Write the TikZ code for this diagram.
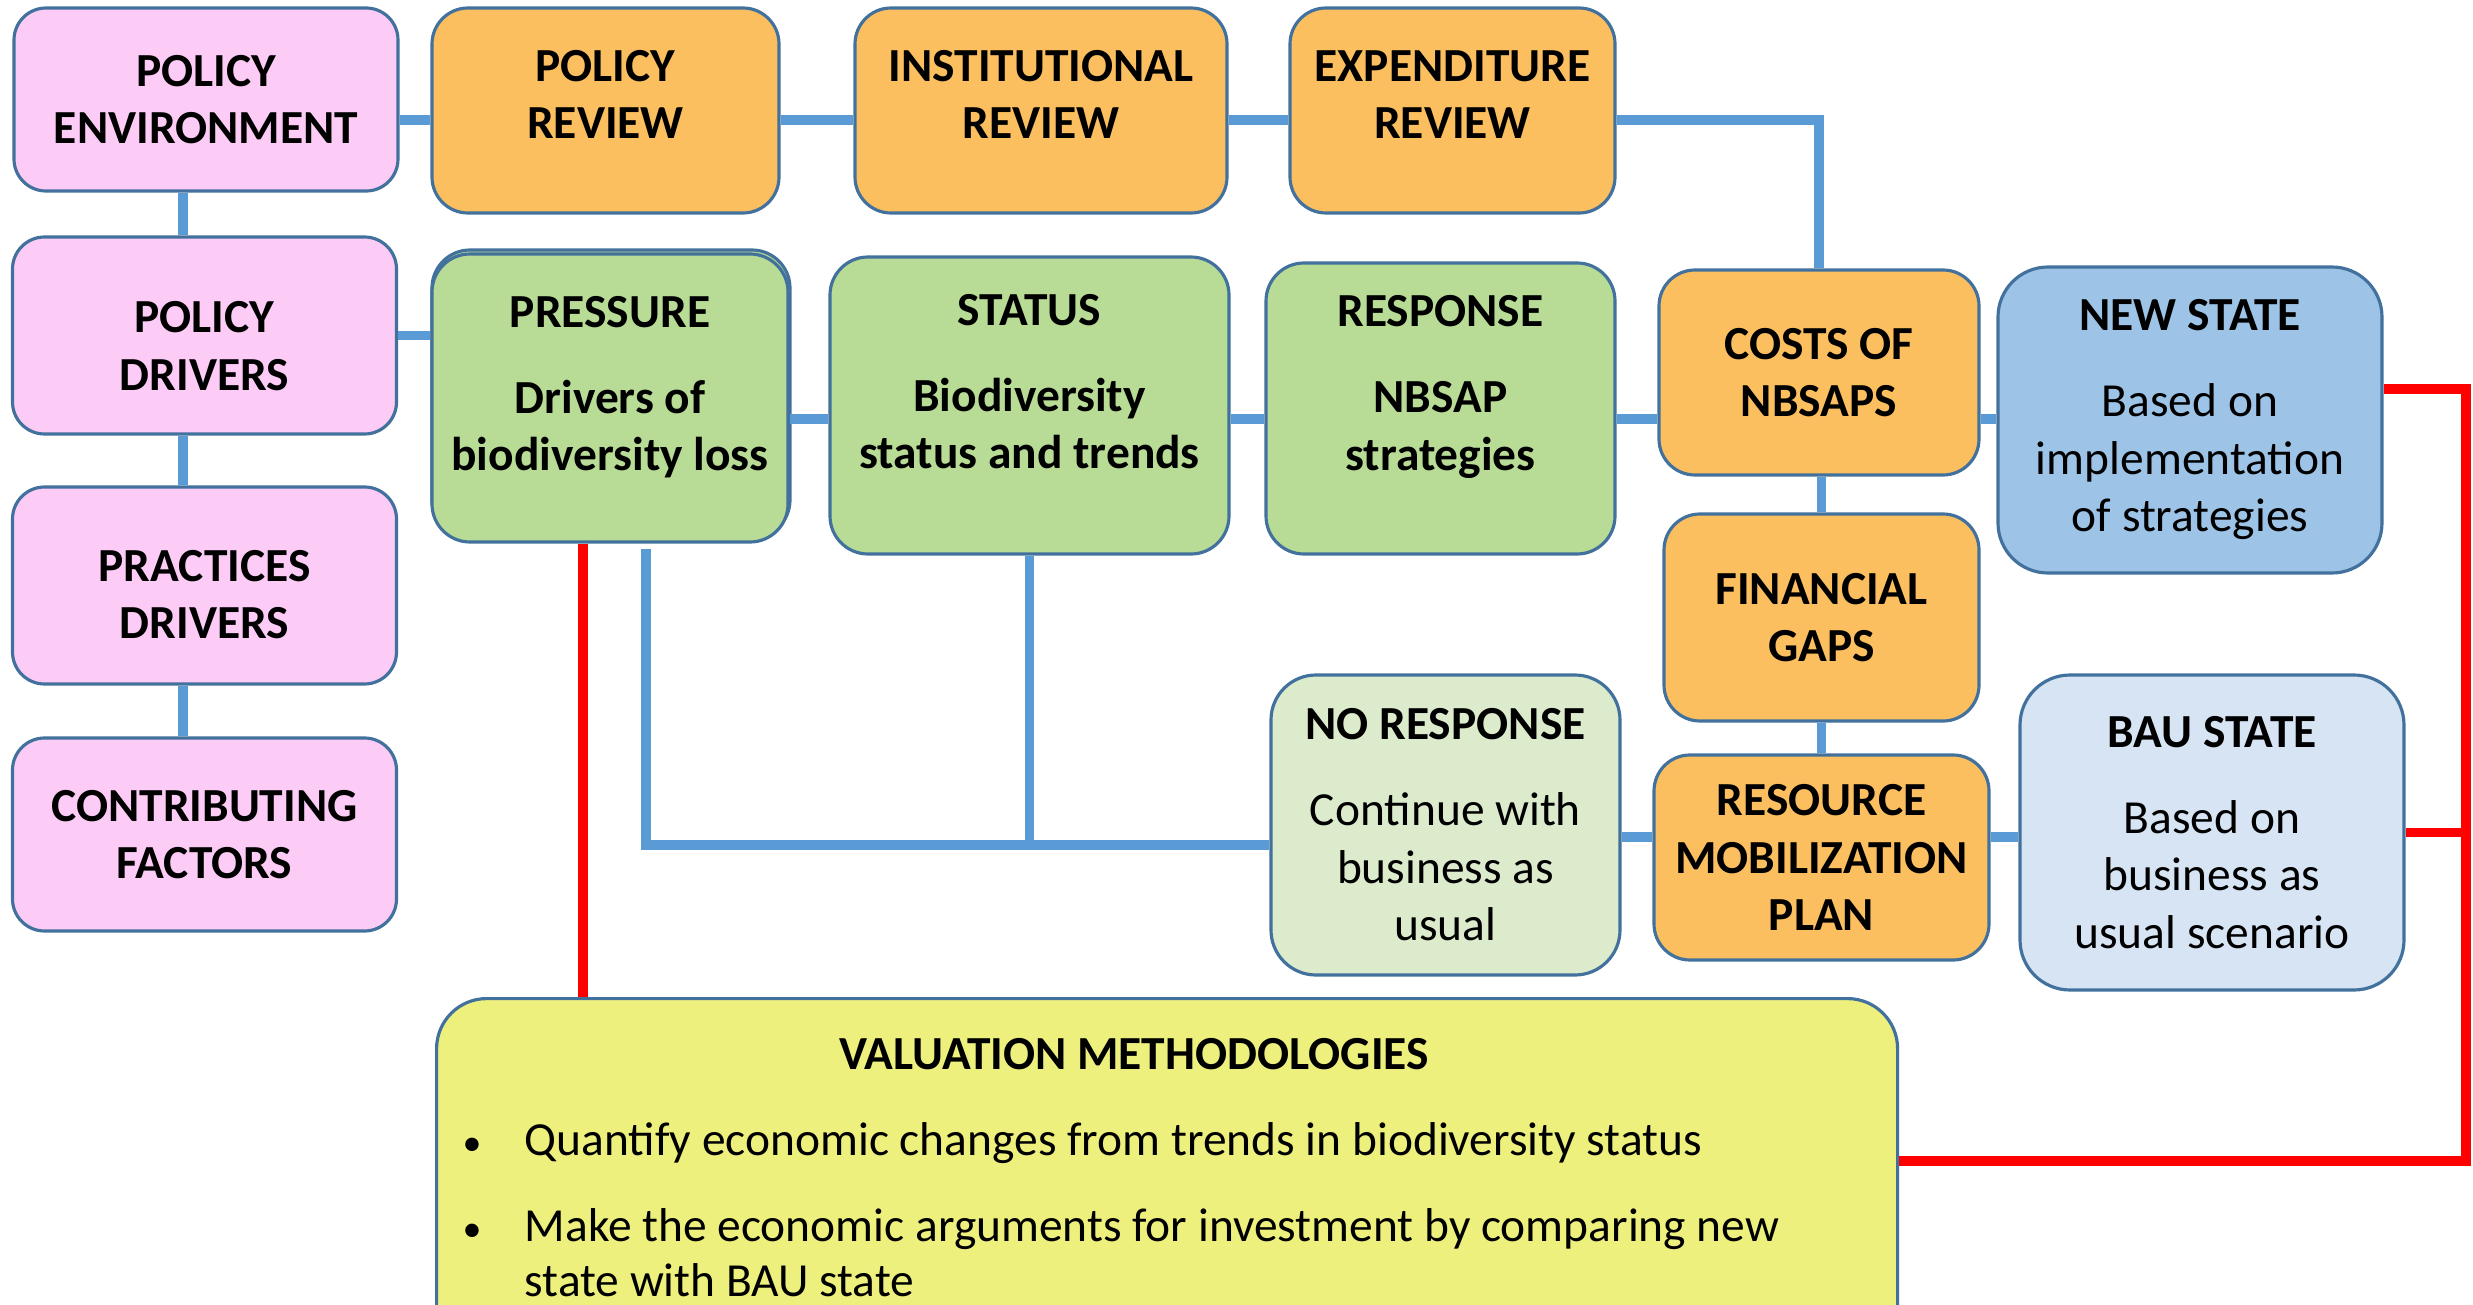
\documentclass[tikz,border=0pt]{standalone}
\usepackage{fontspec}
\setmainfont{Carlito}
\usetikzlibrary{positioning}

\definecolor{pinkfill}{HTML}{FCCCF6}
\definecolor{orangefill}{HTML}{FBBF60}
\definecolor{greenfill}{HTML}{B8DB96}
\definecolor{palegreen}{HTML}{DCEBCC}
\definecolor{newblue}{HTML}{9DC3E6}
\definecolor{baublue}{HTML}{D6E4F4}
\definecolor{valyellow}{HTML}{EEF07E}
\definecolor{boxline}{HTML}{41719C}
\definecolor{linkblue}{HTML}{5B9BD5}
\definecolor{redline}{HTML}{FF0000}

\newcommand{\diagfont}{\fontsize{13.5}{16.4}\selectfont}

\tikzset{
  box/.style={draw=boxline, line width=0.9pt, align=center, inner sep=0pt, font=\diagfont},
  pinkbox/.style={box, fill=pinkfill, rounded corners=3.2mm, minimum width=3.84cm, font=\diagfont\bfseries},
  orangebox/.style={box, fill=orangefill, rounded corners=3.6mm, minimum height=2.05cm, font=\diagfont\bfseries},
  reviewbox/.style={orangebox, text depth=3.2mm},
  greenbox/.style={box, fill=greenfill, rounded corners=3.8mm, font=\diagfont\bfseries},
  statebox/.style={box, rounded corners=5mm, minimum width=3.84cm},
  valbox/.style={box, fill=valyellow, rounded corners=5mm},
  link/.style={draw=linkblue, line width=2.8pt},
  redlink/.style={draw=redline, line width=2.8pt}
}

\begin{document}
\begin{tikzpicture}
\useasboundingbox (0,0) rectangle (24.73,-13.05);
\clip (0,0) rectangle (24.73,-13.05);

% left column
\node[pinkbox, minimum height=1.83cm] (penv) at (2.06,-0.995) {POLICY\\ENVIRONMENT};
\node[pinkbox, minimum height=1.97cm, text height=11mm] (pdrv) at (2.045,-3.355) {POLICY\\DRIVERS};
\node[pinkbox, minimum height=1.97cm, text height=10.7mm] (prac) at (2.045,-5.855) {PRACTICES\\DRIVERS};
\node[pinkbox, minimum height=1.93cm] (contrib) at (2.045,-8.345) {CONTRIBUTING\\FACTORS};

% reviews
\node[reviewbox, minimum width=3.47cm] (prev) at (6.055,-1.105) {POLICY\\REVIEW};
\node[reviewbox, minimum width=3.72cm] (irev) at (10.41,-1.105) {INSTITUTIONAL\\REVIEW};
\node[reviewbox, minimum width=3.25cm] (erev) at (14.525,-1.105) {EXPENDITURE\\REVIEW};

% pressure - status - response
\draw[draw=boxline, line width=0.9pt, fill=greenfill, rounded corners=3.8mm] (4.32,-2.50) rectangle (7.90,-5.38);
\node[greenbox, minimum width=3.56cm, minimum height=2.88cm, text depth=2.9mm] (press) at (6.10,-3.98) {PRESSURE\\[8pt]Drivers of\\biodiversity loss};
\node[greenbox, minimum width=3.99cm, minimum height=2.97cm, text depth=4.8mm] (status) at (10.295,-4.055) {STATUS\\[8pt]Biodiversity\\status and trends};
\node[greenbox, minimum width=3.49cm, minimum height=2.91cm, text depth=5.1mm] (resp) at (14.405,-4.085) {RESPONSE\\[8pt]NBSAP\\strategies};
\node[box, fill=palegreen, rounded corners=4.5mm, minimum width=3.49cm, minimum height=3.00cm] (nores) at (14.455,-8.25) {\textbf{NO RESPONSE}\\[8pt]Continue with\\business as\\usual};

% finance column
\node[orangebox, minimum width=3.20cm] (costs) at (18.19,-3.725) {COSTS OF\\NBSAPS};
\node[orangebox, minimum width=3.15cm, minimum height=2.07cm] (fingap) at (18.215,-6.175) {FINANCIAL\\GAPS};
\node[orangebox, minimum width=3.35cm] (resmob) at (18.215,-8.575) {RESOURCE\\MOBILIZATION\\PLAN};

% states
\node[statebox, fill=newblue, minimum height=3.06cm] (newst) at (21.90,-4.20) {\textbf{NEW STATE}\\[8pt]Based on\\implementation\\of strategies};
\node[statebox, fill=baublue, minimum height=3.15cm] (baust) at (22.12,-8.325) {\textbf{BAU STATE}\\[8pt]Based on\\business as\\usual scenario};

% valuation
\node[valbox, anchor=north west, minimum width=14.61cm, minimum height=3.6cm] (val) at (4.35,-9.97) {};
\node[font=\diagfont\bfseries, anchor=base, inner sep=0pt] (valtitle) at (11.34,-10.69) {VALUATION METHODOLOGIES};
\node[font=\fontsize{13.5}{15.8}\selectfont, anchor=base west, inner sep=0pt] (valitemA) at (4.62,-11.55)
  {\makebox[0.62cm][l]{\scalebox{0.8}{\textbullet}}Quantify economic changes from trends in biodiversity status};
\node[font=\fontsize{13.5}{15.8}\selectfont, anchor=base west, inner sep=0pt] (valitemB) at (4.62,-12.41)
  {\makebox[0.62cm][l]{\scalebox{0.8}{\textbullet}}\parbox[t]{13cm}{Make the economic arguments for investment by comparing new\\state with BAU state}};

% blue links
\coordinate (topline) at (0,-1.2);
\coordinate (pinkline) at (1.83,0);
\coordinate (rowline) at (0,-4.19);
\coordinate (botline) at (0,-8.37);
\coordinate (bend) at (6.46,-8.45);

\draw[link] (penv.east |- topline) -- (prev.west |- topline);
\draw[link] (prev.east |- topline) -- (irev.west |- topline);
\draw[link] (irev.east |- topline) -- (erev.west |- topline);
\draw[link] (erev.east |- topline) -| (costs.north);

\draw[link] (penv.south -| pinkline) -- (pdrv.north -| pinkline);
\draw[link] (pdrv.south -| pinkline) -- (prac.north -| pinkline);
\draw[link] (prac.south -| pinkline) -- (contrib.north -| pinkline);
\draw[link] (pdrv.east) -- (pdrv.east -| press.west);

\draw[link] (press.east |- rowline) -- (status.west |- rowline);
\draw[link] (status.east |- rowline) -- (resp.west |- rowline);
\draw[link] (resp.east |- rowline) -- (costs.west |- rowline);
\draw[link] (costs.east |- rowline) -- (newst.west |- rowline);

\draw[link] (costs.south -| fingap.north) -- (fingap.north);
\draw[link] (fingap.south) -- (resmob.north -| fingap.south);

\draw[link] ([yshift=-0.5mm]press.south -| bend) -- (bend) -- (nores.west |- bend);
\draw[link] (status.south) -- (status.south |- bend);
\draw[link] (nores.east |- botline) -- (resmob.west |- botline);
\draw[link] (resmob.east |- botline) -- (baust.west |- botline);

% red links
\coordinate (redpin) at (5.83,0);
\coordinate (redtop) at (24.66,-3.89);
\coordinate (redbot) at (24.66,-11.61);
\draw[redlink] (press.south -| redpin) -- (val.north -| redpin);
\draw[redlink] (newst.east |- redtop) -- (redtop) -- (redbot) -- (val.east |- redbot);
\draw[redlink] (baust.east) -- (baust.east -| redtop);
\end{tikzpicture}
\end{document}
